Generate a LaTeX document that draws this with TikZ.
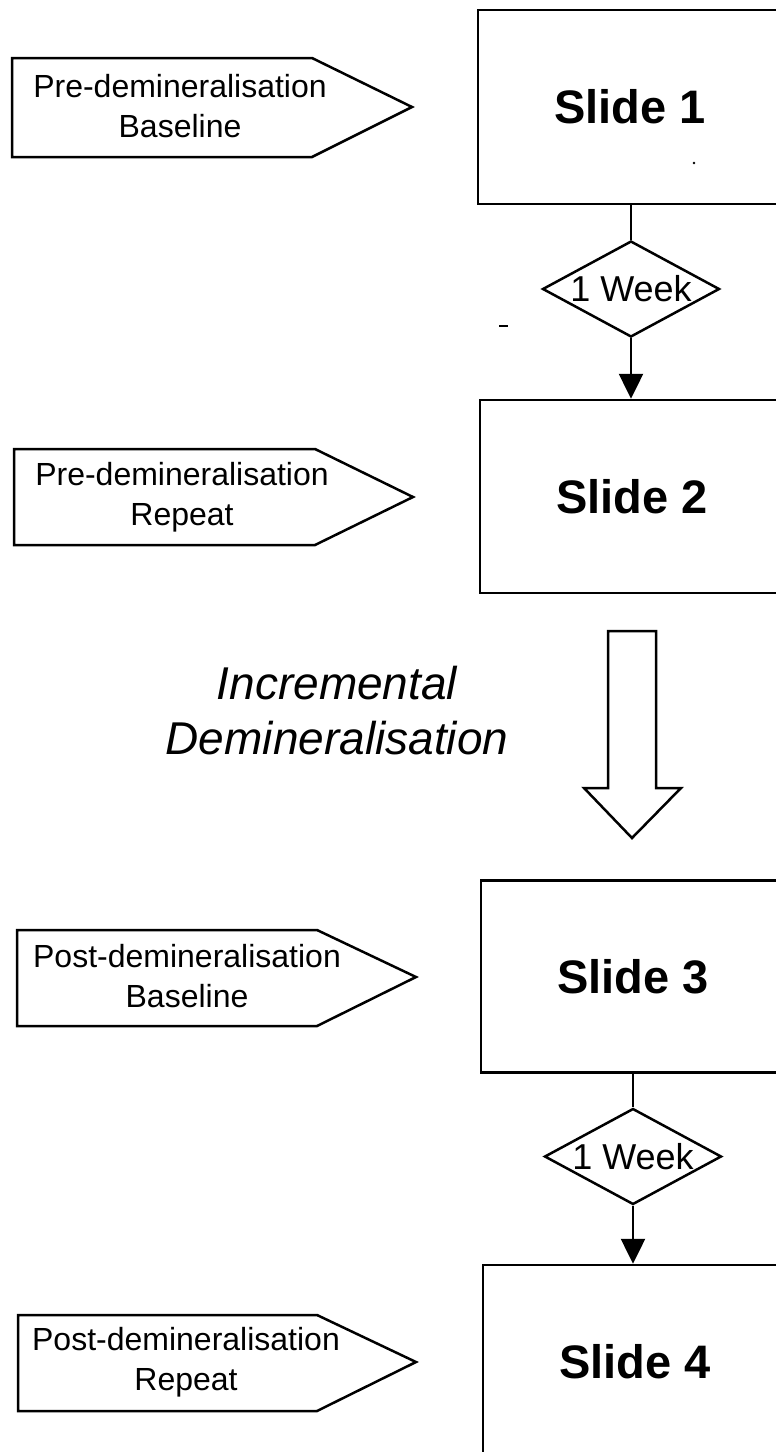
\documentclass[tikz,border=0pt]{standalone}
\usepackage{fontspec}
\setmainfont{Liberation Sans}
\usetikzlibrary{shapes.geometric,arrows.meta}
\begin{document}
\begin{tikzpicture}[x=1pt,y=-1pt,line width=2.5pt,
  slidebox/.style={draw,rectangle,minimum width=304pt,inner sep=0pt,
    font=\fontsize{47}{56}\selectfont\bfseries},
  weekbox/.style={draw,diamond,minimum width=177pt,minimum height=96pt,inner sep=0pt},
  weektext/.style={inner sep=0pt,font=\fontsize{36}{40}\selectfont},
  labeltext/.style={align=center,inner sep=0pt,font=\fontsize{32}{40}\selectfont},
  tagshape/.style={draw,line join=miter},
  connarrow/.style={-{Triangle[length=25pt,width=24pt]}},
  bigarrow/.style={draw,line join=miter},
]
\path[use as bounding box,clip] (0,0) rectangle (776,1452);
\fill[white] (0,0) rectangle (776,1452);

% slide boxes (cut off at the right edge)
\node[slidebox,minimum height=194pt] (s1) at (630,107) {Slide 1};
\node[slidebox,minimum height=193pt] (s2) at (632,496.5) {Slide 2};
\node[slidebox,minimum height=192pt] (s3) at (633,976.5) {Slide 3};
\node[slidebox,minimum height=194pt] (s4) at (635,1362) {Slide 4};

% one-week diamonds
\node[weekbox] (d1) at (631,289) {};
\node[weektext] (d1t) at (d1.center) {1 Week};
\node[weekbox] (d2) at (633,1156.5) {};
\node[weektext] (d2t) at (d2.center) {1 Week};

% connectors
\draw (d1.north |- s1.south) -- (d1.north);
\draw[connarrow] (d1.south) -- (d1.south |- s2.north);
\draw (d2.north |- s3.south) -- (d2.north);
\draw[connarrow] (d2.south) -- (d2.south |- s4.north);

% tag labels
\draw[tagshape] (12,58) -- (312,58) -- (412,107) -- (312,157) -- (12,157) -- cycle;
\node[labeltext] (t1) at (180,106) {Pre-demineralisation\\Baseline};
\draw[tagshape] (14,449) -- (315,449) -- (413,497) -- (315,545) -- (14,545) -- cycle;
\node[labeltext] (t2) at (182,497) {Pre-demineralisation\\Repeat};
\draw[tagshape] (17,930) -- (317,930) -- (416,977) -- (317,1026) -- (17,1026) -- cycle;
\node[labeltext] (t3) at (187,976) {Post-demineralisation\\Baseline};
\draw[tagshape] (18,1315) -- (317,1315) -- (416,1362) -- (317,1411) -- (18,1411) -- cycle;
\node[labeltext] (t4) at (186,1362) {Post-demineralisation\\Repeat};

% incremental demineralisation
\node[align=center,inner sep=0pt,font=\fontsize{46}{55}\selectfont\itshape] (inc) at (337,711)
  {Incremental\\Demineralisation};
\draw[bigarrow] (608,631) -- (656,631) -- (656,788) -- (681,788) -- (632,838)
  -- (584,788) -- (608,788) -- cycle;

% small marks present in the picture
\draw[line width=2pt] (499,326) -- (508,326);
\fill (694,163) circle (1.3pt);
\end{tikzpicture}
\end{document}
